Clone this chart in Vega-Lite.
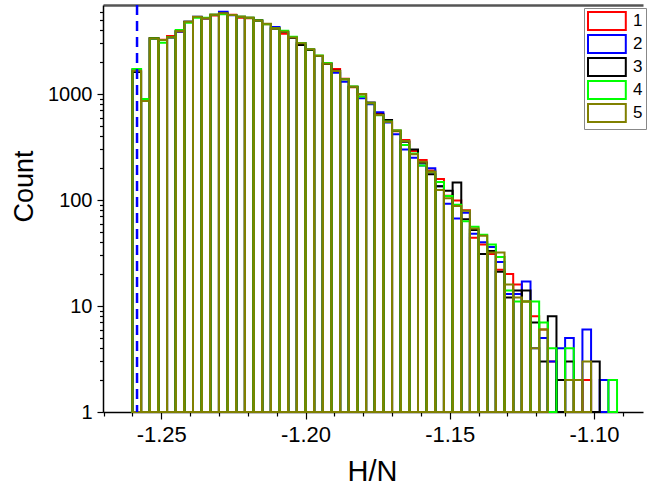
{
  "$schema": "https://vega.github.io/schema/vega-lite/v6.json",
  "width": 540,
  "height": 407,
  "autosize": {"type": "none"},
  "padding": {"left": 103, "top": 5, "right": 6, "bottom": 78},
  "background": "white",
  "config": {"view": {"stroke": null}, "font": "Liberation Sans"},
  "datasets": {
    "bins": [
      {"k":0,"a":-1.260,"b":-1.257},{"k":1,"a":-1.257,"b":-1.254},{"k":2,"a":-1.254,"b":-1.251},{"k":3,"a":-1.251,"b":-1.248},
      {"k":4,"a":-1.248,"b":-1.245},{"k":5,"a":-1.245,"b":-1.242},{"k":6,"a":-1.242,"b":-1.239},{"k":7,"a":-1.239,"b":-1.236},
      {"k":8,"a":-1.236,"b":-1.233},{"k":9,"a":-1.233,"b":-1.230},{"k":10,"a":-1.230,"b":-1.227},{"k":11,"a":-1.227,"b":-1.224},
      {"k":12,"a":-1.224,"b":-1.221},{"k":13,"a":-1.221,"b":-1.218},{"k":14,"a":-1.218,"b":-1.215},{"k":15,"a":-1.215,"b":-1.212},
      {"k":16,"a":-1.212,"b":-1.209},{"k":17,"a":-1.209,"b":-1.206},{"k":18,"a":-1.206,"b":-1.203},{"k":19,"a":-1.203,"b":-1.200},
      {"k":20,"a":-1.200,"b":-1.197},{"k":21,"a":-1.197,"b":-1.194},{"k":22,"a":-1.194,"b":-1.191},{"k":23,"a":-1.191,"b":-1.188},
      {"k":24,"a":-1.188,"b":-1.185},{"k":25,"a":-1.185,"b":-1.182},{"k":26,"a":-1.182,"b":-1.179},{"k":27,"a":-1.179,"b":-1.176},
      {"k":28,"a":-1.176,"b":-1.173},{"k":29,"a":-1.173,"b":-1.170},{"k":30,"a":-1.170,"b":-1.167},{"k":31,"a":-1.167,"b":-1.164},
      {"k":32,"a":-1.164,"b":-1.161},{"k":33,"a":-1.161,"b":-1.158},{"k":34,"a":-1.158,"b":-1.155},{"k":35,"a":-1.155,"b":-1.152},
      {"k":36,"a":-1.152,"b":-1.149},{"k":37,"a":-1.149,"b":-1.146},{"k":38,"a":-1.146,"b":-1.143},{"k":39,"a":-1.143,"b":-1.140},
      {"k":40,"a":-1.140,"b":-1.137},{"k":41,"a":-1.137,"b":-1.134},{"k":42,"a":-1.134,"b":-1.131},{"k":43,"a":-1.131,"b":-1.128},
      {"k":44,"a":-1.128,"b":-1.125},{"k":45,"a":-1.125,"b":-1.122},{"k":46,"a":-1.122,"b":-1.119},{"k":47,"a":-1.119,"b":-1.116},
      {"k":48,"a":-1.116,"b":-1.113},{"k":49,"a":-1.113,"b":-1.110},{"k":50,"a":-1.110,"b":-1.107},{"k":51,"a":-1.107,"b":-1.104},
      {"k":52,"a":-1.104,"b":-1.101},{"k":53,"a":-1.101,"b":-1.098},{"k":54,"a":-1.098,"b":-1.095},{"k":55,"a":-1.095,"b":-1.092}
    ],
    "counts": [
      {"s":"1","k":0,"n":1670},{"s":"1","k":1,"n":870},{"s":"1","k":2,"n":3380},{"s":"1","k":3,"n":3260},{"s":"1","k":4,"n":3520},
      {"s":"1","k":5,"n":3900},{"s":"1","k":6,"n":4780},{"s":"1","k":7,"n":5330},{"s":"1","k":8,"n":5150},{"s":"1","k":9,"n":5520},
      {"s":"1","k":10,"n":5730},{"s":"1","k":11,"n":5600},{"s":"1","k":12,"n":5250},{"s":"1","k":13,"n":5200},{"s":"1","k":14,"n":4900},
      {"s":"1","k":15,"n":4560},{"s":"1","k":16,"n":4150},{"s":"1","k":17,"n":3700},{"s":"1","k":18,"n":3380},{"s":"1","k":19,"n":3000},
      {"s":"1","k":20,"n":2620},{"s":"1","k":21,"n":2280},{"s":"1","k":22,"n":1940},{"s":"1","k":23,"n":1720},{"s":"1","k":24,"n":1390},
      {"s":"1","k":25,"n":1160},{"s":"1","k":26,"n":990},{"s":"1","k":27,"n":810},{"s":"1","k":28,"n":650},{"s":"1","k":29,"n":570},
      {"s":"1","k":30,"n":445},{"s":"1","k":31,"n":368},{"s":"1","k":32,"n":290},{"s":"1","k":33,"n":238},{"s":"1","k":34,"n":190},
      {"s":"1","k":35,"n":158},{"s":"1","k":36,"n":110},{"s":"1","k":37,"n":99},{"s":"1","k":38,"n":80},{"s":"1","k":39,"n":44},
      {"s":"1","k":40,"n":38},{"s":"1","k":41,"n":31},{"s":"1","k":42,"n":22},{"s":"1","k":43,"n":20},{"s":"1","k":44,"n":16},
      {"s":"1","k":45,"n":11},{"s":"1","k":46,"n":8},{"s":"1","k":47,"n":6},{"s":"1","k":48,"n":3},{"s":"1","k":51,"n":2},{"s":"1","k":52,"n":2},

      {"s":"2","k":0,"n":1700},{"s":"2","k":1,"n":870},{"s":"2","k":2,"n":3320},{"s":"2","k":3,"n":3240},{"s":"2","k":4,"n":3420},
      {"s":"2","k":5,"n":3900},{"s":"2","k":6,"n":4800},{"s":"2","k":7,"n":5350},{"s":"2","k":8,"n":5180},{"s":"2","k":9,"n":5580},
      {"s":"2","k":10,"n":5970},{"s":"2","k":11,"n":5540},{"s":"2","k":12,"n":5340},{"s":"2","k":13,"n":5230},{"s":"2","k":14,"n":4930},
      {"s":"2","k":15,"n":4580},{"s":"2","k":16,"n":4300},{"s":"2","k":17,"n":3850},{"s":"2","k":18,"n":3400},{"s":"2","k":19,"n":3010},
      {"s":"2","k":20,"n":2630},{"s":"2","k":21,"n":2290},{"s":"2","k":22,"n":1950},{"s":"2","k":23,"n":1590},{"s":"2","k":24,"n":1307},
      {"s":"2","k":25,"n":1165},{"s":"2","k":26,"n":910},{"s":"2","k":27,"n":800},{"s":"2","k":28,"n":672},{"s":"2","k":29,"n":540},
      {"s":"2","k":30,"n":417},{"s":"2","k":31,"n":300},{"s":"2","k":32,"n":251},{"s":"2","k":33,"n":212},{"s":"2","k":34,"n":199},
      {"s":"2","k":35,"n":135},{"s":"2","k":36,"n":92},{"s":"2","k":37,"n":67},{"s":"2","k":38,"n":76},{"s":"2","k":39,"n":48},
      {"s":"2","k":40,"n":40},{"s":"2","k":41,"n":36},{"s":"2","k":42,"n":26},{"s":"2","k":43,"n":13},{"s":"2","k":44,"n":13},
      {"s":"2","k":45,"n":17},{"s":"2","k":46,"n":4},{"s":"2","k":47,"n":5},{"s":"2","k":48,"n":3},{"s":"2","k":49,"n":4},
      {"s":"2","k":50,"n":5},{"s":"2","k":52,"n":6},{"s":"2","k":54,"n":2},

      {"s":"3","k":0,"n":1610},{"s":"3","k":1,"n":870},{"s":"3","k":2,"n":3360},{"s":"3","k":3,"n":3240},{"s":"3","k":4,"n":3430},
      {"s":"3","k":5,"n":3920},{"s":"3","k":6,"n":4800},{"s":"3","k":7,"n":5340},{"s":"3","k":8,"n":5200},{"s":"3","k":9,"n":5600},
      {"s":"3","k":10,"n":5760},{"s":"3","k":11,"n":5570},{"s":"3","k":12,"n":5350},{"s":"3","k":13,"n":5250},{"s":"3","k":14,"n":4960},
      {"s":"3","k":15,"n":4590},{"s":"3","k":16,"n":4160},{"s":"3","k":17,"n":3860},{"s":"3","k":18,"n":3390},{"s":"3","k":19,"n":2900},
      {"s":"3","k":20,"n":2600},{"s":"3","k":21,"n":2290},{"s":"3","k":22,"n":1920},{"s":"3","k":23,"n":1660},{"s":"3","k":24,"n":1380},
      {"s":"3","k":25,"n":1170},{"s":"3","k":26,"n":1000},{"s":"3","k":27,"n":834},{"s":"3","k":28,"n":640},{"s":"3","k":29,"n":570},
      {"s":"3","k":30,"n":450},{"s":"3","k":31,"n":355},{"s":"3","k":32,"n":300},{"s":"3","k":33,"n":225},{"s":"3","k":34,"n":175},
      {"s":"3","k":35,"n":135},{"s":"3","k":36,"n":122},{"s":"3","k":37,"n":146},{"s":"3","k":38,"n":66},{"s":"3","k":39,"n":52},
      {"s":"3","k":40,"n":31},{"s":"3","k":41,"n":33},{"s":"3","k":42,"n":21},{"s":"3","k":43,"n":12},{"s":"3","k":44,"n":14},
      {"s":"3","k":45,"n":14},{"s":"3","k":46,"n":7},{"s":"3","k":47,"n":3},{"s":"3","k":48,"n":8},{"s":"3","k":49,"n":2},
      {"s":"3","k":50,"n":3},{"s":"3","k":53,"n":3},

      {"s":"4","k":0,"n":1720},{"s":"4","k":1,"n":897},{"s":"4","k":2,"n":3340},{"s":"4","k":3,"n":3050},{"s":"4","k":4,"n":3440},
      {"s":"4","k":5,"n":4020},{"s":"4","k":6,"n":4700},{"s":"4","k":7,"n":5240},{"s":"4","k":8,"n":5250},{"s":"4","k":9,"n":5590},
      {"s":"4","k":10,"n":5660},{"s":"4","k":11,"n":5560},{"s":"4","k":12,"n":5370},{"s":"4","k":13,"n":5240},{"s":"4","k":14,"n":4950},
      {"s":"4","k":15,"n":4560},{"s":"4","k":16,"n":4180},{"s":"4","k":17,"n":3960},{"s":"4","k":18,"n":3480},{"s":"4","k":19,"n":3030},
      {"s":"4","k":20,"n":2650},{"s":"4","k":21,"n":2310},{"s":"4","k":22,"n":1960},{"s":"4","k":23,"n":1650},{"s":"4","k":24,"n":1380},
      {"s":"4","k":25,"n":1180},{"s":"4","k":26,"n":950},{"s":"4","k":27,"n":820},{"s":"4","k":28,"n":630},{"s":"4","k":29,"n":550},
      {"s":"4","k":30,"n":454},{"s":"4","k":31,"n":330},{"s":"4","k":32,"n":275},{"s":"4","k":33,"n":212},{"s":"4","k":34,"n":185},
      {"s":"4","k":35,"n":148},{"s":"4","k":36,"n":109},{"s":"4","k":37,"n":90},{"s":"4","k":38,"n":63},{"s":"4","k":39,"n":56},
      {"s":"4","k":40,"n":47},{"s":"4","k":41,"n":38},{"s":"4","k":42,"n":29},{"s":"4","k":43,"n":14},{"s":"4","k":44,"n":11},
      {"s":"4","k":45,"n":11},{"s":"4","k":46,"n":11},{"s":"4","k":47,"n":7},{"s":"4","k":48,"n":4},{"s":"4","k":50,"n":4},
      {"s":"4","k":55,"n":2},

      {"s":"5","k":0,"n":1660},{"s":"5","k":1,"n":860},{"s":"5","k":2,"n":3350},{"s":"5","k":3,"n":3230},{"s":"5","k":4,"n":3430},
      {"s":"5","k":5,"n":3930},{"s":"5","k":6,"n":4810},{"s":"5","k":7,"n":5360},{"s":"5","k":8,"n":5175},{"s":"5","k":9,"n":5600},
      {"s":"5","k":10,"n":5770},{"s":"5","k":11,"n":5560},{"s":"5","k":12,"n":5360},{"s":"5","k":13,"n":5245},{"s":"5","k":14,"n":4950},
      {"s":"5","k":15,"n":4600},{"s":"5","k":16,"n":4170},{"s":"5","k":17,"n":3870},{"s":"5","k":18,"n":3410},{"s":"5","k":19,"n":3020},
      {"s":"5","k":20,"n":2640},{"s":"5","k":21,"n":2300},{"s":"5","k":22,"n":1930},{"s":"5","k":23,"n":1650},{"s":"5","k":24,"n":1375},
      {"s":"5","k":25,"n":1170},{"s":"5","k":26,"n":1000},{"s":"5","k":27,"n":817},{"s":"5","k":28,"n":634},{"s":"5","k":29,"n":548},
      {"s":"5","k":30,"n":454},{"s":"5","k":31,"n":360},{"s":"5","k":32,"n":270},{"s":"5","k":33,"n":230},{"s":"5","k":34,"n":185},
      {"s":"5","k":35,"n":124},{"s":"5","k":36,"n":104},{"s":"5","k":37,"n":88},{"s":"5","k":38,"n":79},{"s":"5","k":39,"n":54},
      {"s":"5","k":40,"n":46},{"s":"5","k":41,"n":32},{"s":"5","k":42,"n":32},{"s":"5","k":43,"n":16},{"s":"5","k":44,"n":12},
      {"s":"5","k":45,"n":11},{"s":"5","k":46,"n":4},{"s":"5","k":47,"n":6},{"s":"5","k":50,"n":2},{"s":"5","k":51,"n":2},
      {"s":"5","k":52,"n":3}
    ]
  },
  "layer": [
    {
      "data": {"name": "counts"},
      "transform": [
        {"lookup": "k", "from": {"data": {"name": "bins"}, "key": "k", "fields": ["a", "b"]}}
      ],
      "mark": {"type": "bar", "fill": "transparent", "strokeWidth": 2},
      "encoding": {
        "x": {
          "field": "a", "type": "quantitative",
          "scale": {"domain": [-1.2702, -1.0830], "nice": false, "zero": false},
          "axis": {
            "orient": "bottom",
            "values": [-1.27,-1.26,-1.25,-1.24,-1.23,-1.22,-1.21,-1.2,-1.19,-1.18,-1.17,-1.16,-1.15,-1.14,-1.13,-1.12,-1.11,-1.1,-1.09],
            "labelExpr": "abs(datum.value*20-round(datum.value*20))<1e-6 ? replace(format(datum.value,'.2f'),'\u2212','-') : ''",
            "tickSize": {"condition": {"test": "abs(datum.value*20-round(datum.value*20))<1e-6", "value": 7}, "value": 4},
            "tickColor": "black", "tickWidth": 1.2,
            "domainColor": "black", "domainWidth": 1.5,
            "labelFont": "Liberation Sans", "labelFontSize": 22, "labelColor": "black", "labelPadding": 5,
            "labelOverlap": false, "labelFlush": false, "labelBound": false,
            "grid": false,
            "title": "H/N", "titleFont": "Liberation Sans", "titleFontSize": 29, "titleFontWeight": "normal", "titleColor": "black",
            "titleX": 269, "titleY": 59, "titleAlign": "center", "titleBaseline": "middle"
          }
        },
        "x2": {"field": "b"},
        "y": {
          "field": "n", "type": "quantitative",
          "scale": {"type": "log", "domain": [1, 6918], "nice": false},
          "axis": {
            "orient": "left",
            "values": [1,2,3,4,5,6,7,8,9,10,20,30,40,50,60,70,80,90,100,200,300,400,500,600,700,800,900,1000,2000,3000,4000,5000,6000],
            "format": "d",
            "labelExpr": "(datum.value==1||datum.value==10||datum.value==100||datum.value==1000) ? datum.label : ''",
            "tickSize": {"condition": {"test": "datum.value==1||datum.value==10||datum.value==100||datum.value==1000", "value": 6}, "value": 3.5},
            "tickColor": "black", "tickWidth": 1.2,
            "domainColor": "black", "domainWidth": 1.5,
            "labelFont": "Liberation Sans", "labelFontSize": 20, "labelColor": "black", "labelPadding": 5,
            "labelOverlap": false, "labelFlush": false, "labelBound": false,
            "grid": false,
            "title": "Count", "titleFont": "Liberation Sans", "titleFontSize": 27, "titleFontWeight": "normal", "titleColor": "black",
            "titleX": -79, "titleY": 181, "titleAngle": -90, "titleAlign": "center", "titleBaseline": "middle"
          }
        },
        "y2": {"datum": 1},
        "stroke": {
          "field": "s", "type": "nominal",
          "scale": {"domain": ["1","2","3","4","5"], "range": ["#ff0000","#0000ff","#000000","#00ff00","#808000"]},
          "legend": {
            "orient": "none", "legendX": 481, "legendY": 3, "title": null,
            "symbolType": "M-1,-1H3.2V1H-1Z", "symbolSize": 324, "symbolStrokeWidth": 2,
            "symbolFillColor": "white",
            "labelFont": "Liberation Sans", "labelFontSize": 17, "labelColor": "black", "labelOffset": 26,
            "strokeColor": "#888888", "fillColor": "white", "padding": 3, "rowPadding": -8
          }
        }
      }
    },
    {
      "data": {"values": [{}]},
      "mark": {"type": "rule", "color": "#0000ff", "strokeWidth": 2.5, "strokeDash": [10, 6]},
      "encoding": {
        "x": {
          "datum": -1.2584, "type": "quantitative",
          "axis": {"orient": "top", "labels": false, "ticks": false, "title": null, "domainColor": "#555555", "domainWidth": 2.5, "grid": false}
        }
      }
    }
  ],
  "resolve": {"axis": {"x": "independent"}}
}
